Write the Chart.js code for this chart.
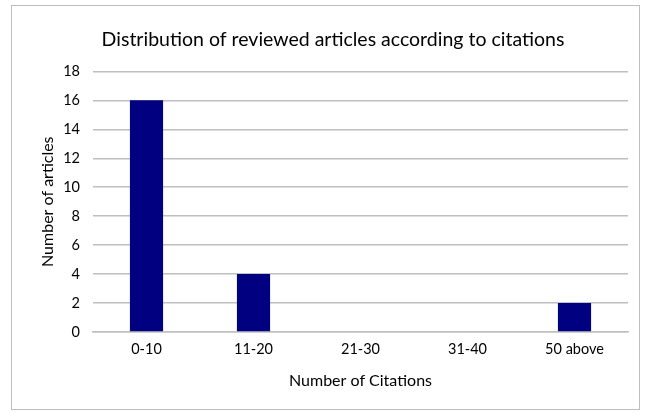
<!DOCTYPE html>
<html>
<head>
<meta charset="utf-8">
<script src="https://cdn.jsdelivr.net/npm/chart.js@4.4.1/dist/chart.umd.min.js"></script>
<style>
  html, body { margin: 0; padding: 0; background: #fff; }
  #wrap { position: relative; width: 649px; height: 414px; }
</style>
</head>
<body>
<div id="wrap"><canvas id="c" width="649" height="414"></canvas></div>
<script>
// data
const categories = ["0-10", "11-20", "21-30", "31-40", "50 above"];
const articles = [16, 4, 0, 0, 2];
const yTicks = [0, 2, 4, 6, 8, 10, 12, 14, 16, 18];

const fontFamily = "Lato, 'Open Sans', sans-serif";

// frame around the whole chart
const frame = {
    id: "frame",
    beforeDraw: function (chart) {
        var ctx = chart.ctx;
        ctx.save();
        ctx.fillStyle = "#fff";
        ctx.fillRect(0, 0, chart.width, chart.height);
        ctx.strokeStyle = "#bfbfbf";
        ctx.lineWidth = 1;
        ctx.strokeRect(11.5, 5.5, 628, 404);
        ctx.restore();
    }
};

new Chart(document.getElementById("c").getContext("2d"), {
    type: "bar",
    data: {
        labels: categories,
        datasets: [{
            label: "Number of articles",
            data: articles,
            backgroundColor: "#000080",
            borderWidth: 0,
            categoryPercentage: 1,
            barPercentage: 0.31
        }]
    },
    options: {
        responsive: false,
        animation: false,
        layout: {padding: {left: 38, right: 21, top: 0, bottom: 24}},
        plugins: {
            legend: {display: false},
            tooltip: {enabled: false},
            title: {
                display: true,
                text: "Distribution of reviewed articles according to citations",
                color: "#000",
                font: {family: fontFamily, size: 19.5, weight: "normal"},
                padding: {top: 28, bottom: 20}
            }
        },
        scales: {
            x: {
                grid: {display: false, drawTicks: false},
                border: {display: true, color: "#bfbfbf", width: 1.5},
                ticks: {color: "#000", font: {family: fontFamily, size: 14.5}, padding: 9},
                title: {
                    display: true,
                    text: "Number of Citations",
                    color: "#000",
                    font: {family: fontFamily, size: 16},
                    padding: {top: 8, bottom: 0}
                },
                afterFit: function (s) { s.height = 414 - 332 - 24; }
            },
            y: {
                min: 0,
                max: 18,
                afterBuildTicks: function (s) { s.ticks = yTicks.map(function (v) { return {value: v}; }); },
                grid: {color: "#bfbfbf", lineWidth: 1.5, drawTicks: false},
                border: {display: false},
                ticks: {color: "#000", font: {family: fontFamily, size: 14.5}, padding: 13},
                title: {
                    display: true,
                    text: "Number of articles",
                    color: "#000",
                    font: {family: fontFamily, size: 16},
                    padding: {top: 0, bottom: 4}
                },
                afterFit: function (s) { s.width = 93 - 38; }
            }
        }
    },
    plugins: [frame]
});
</script>
</body>
</html>
